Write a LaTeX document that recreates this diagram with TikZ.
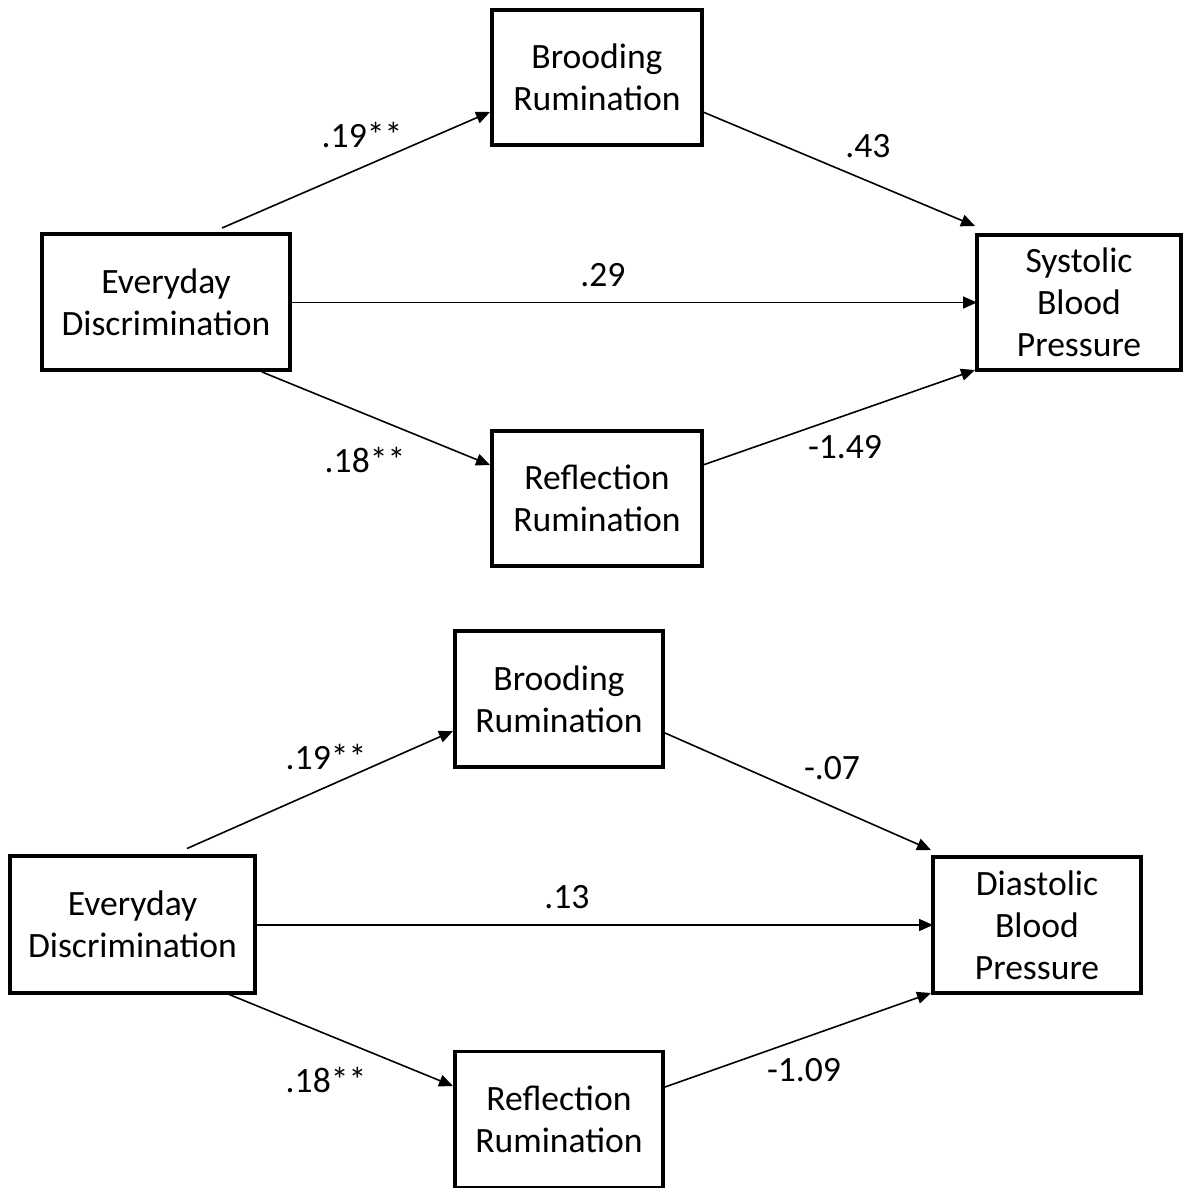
\documentclass[tikz,border=0pt]{standalone}
\usepackage{fontspec}
\setmainfont{Carlito}
\usetikzlibrary{calc,arrows.meta}
\begin{document}
\begin{tikzpicture}[x=0.5pt,y=-0.5pt,
  box/.style={draw,line width=1.8pt,align=center,inner sep=0pt,outer sep=0pt,
    font=\fontsize{17.8}{21}\selectfont},
  conn/.style={line width=0.8pt,-{Triangle[length=7pt,width=6pt]}},
  lbl/.style={font=\fontsize{17.8}{21}\selectfont}]
\useasboundingbox (0,0) rectangle (1183,1188);
% ---- top diagram ----
\node[box,minimum width=124pt,minimum height=68pt] (ed1) at (166,302) {Everyday\\Discrimination};
\node[box,minimum width=105pt,minimum height=67.5pt] (br1) at (597,77.5) {Brooding\\Rumination};
\node[box,minimum width=105pt,minimum height=67.5pt] (rf1) at (597,498.5) {Reflection\\Rumination};
\node[box,minimum width=102pt,minimum height=67.5pt] (sb) at (1079,302.5) {Systolic\\Blood\\Pressure};
\draw[conn] ($(ed1.north)+(56,-6)$) -- ($(br1.west)+(-2,34.5)$);
\draw[conn] ($(br1.east)+(1,34.5)$) -- ($(sb.north west)+(-2,-9)$);
\draw[conn] (ed1.east |- sb.west) -- (sb.west);
\draw[conn] ($(ed1.south)+(96,2)$) -- ($(rf1.west)+(-2,-33.5)$);
\draw[conn] ($(rf1.east)+(1,-33.5)$) -- ($(sb.south west)+(-2,0)$);
\node[lbl] (l1) at (362,135) {.19**};
\node[lbl] (l2) at (868,146) {.43};
\node[lbl] (l3) at (603,275) {.29};
\node[lbl] (l4) at (365,460) {.18**};
\node[lbl] (l5) at (845,447) {-1.49};
% ---- bottom diagram ----
\node[box,minimum width=122.5pt,minimum height=68.5pt] (ed2) at (132.5,924.5) {Everyday\\Discrimination};
\node[box,minimum width=104pt,minimum height=68pt] (br2) at (559,699) {Brooding\\Rumination};
\node[box,minimum width=104pt,minimum height=68pt] (rf2) at (559,1119.5) {Reflection\\Rumination};
\node[box,minimum width=104pt,minimum height=68pt] (db) at (1037,925) {Diastolic\\Blood\\Pressure};
\draw[conn] ($(ed2.north)+(54.5,-7.5)$) -- ($(br2.west)+(-2,32)$);
\draw[conn] ($(br2.east)+(2,34)$) -- ($(db.north west)+(-2,-7)$);
\draw[conn] (ed2.east |- db.west) -- (db.west);
\draw[conn] ($(ed2.south)+(95.5,1)$) -- ($(rf2.west)+(-2,-33.5)$);
\draw[conn] ($(rf2.east)+(2,-32.5)$) -- ($(db.south west)+(-2,0)$);
\node[lbl] (m1) at (326,757) {.19**};
\node[lbl] (m2) at (832,768) {-.07};
\node[lbl] (m3) at (567,897) {.13};
\node[lbl] (m4) at (326,1080) {.18**};
\node[lbl] (m5) at (804,1070) {-1.09};
\end{tikzpicture}
\end{document}
